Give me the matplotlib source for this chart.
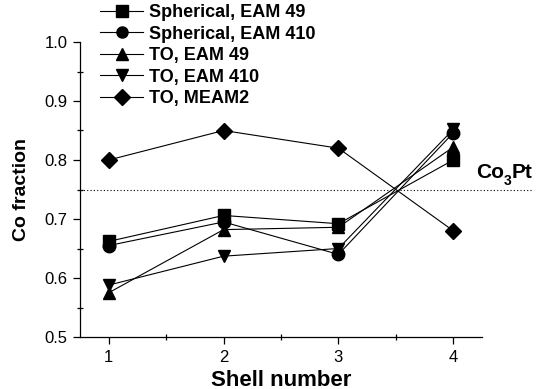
import matplotlib
matplotlib.use("Agg")
import matplotlib.pyplot as plt
from matplotlib.ticker import MultipleLocator, FormatStrFormatter

plt.rcParams['font.family'] = ['Liberation Sans', 'DejaVu Sans']

shells = [1, 2, 3, 4]
sph_eam49 = [0.662, 0.706, 0.692, 0.800]
sph_eam410 = [0.655, 0.695, 0.640, 0.846]
to_eam49 = [0.575, 0.682, 0.686, 0.822]
to_eam410 = [0.588, 0.637, 0.650, 0.852]
to_meam2 = [0.800, 0.850, 0.820, 0.680]
labels = ["Spherical, EAM 49", "Spherical, EAM 410", "TO, EAM 49", "TO, EAM 410", "TO, MEAM2"]
co3pt = 0.75

fig = plt.figure(figsize=(5.38, 3.89), dpi=100)
ax = fig.add_axes([80/538, 52/389, 402/538, 295/389])

series = [sph_eam49, sph_eam410, to_eam49, to_eam410, to_meam2]
markers = ['s', 'o', '^', 'v', 'D']
msizes = [8, 9, 9, 9, 8]
for s, m, ms, lab in zip(series, markers, msizes, labels):
    ax.plot(shells, s, color='black', lw=0.8, marker=m, markersize=ms,
            markerfacecolor='black', markeredgecolor='black', label=lab)

ax.plot([0, 1.124], [co3pt, co3pt], transform=ax.get_yaxis_transform(),
        clip_on=False, color='black', lw=0.8, ls=(0, (1, 2)))

t1 = ax.text(0.985, co3pt + 0.019, "Co", transform=ax.get_yaxis_transform(),
             fontsize=15, fontweight='bold', ha='left', va='baseline')
t2 = ax.annotate("3", xy=(1, 0), xycoords=t1, xytext=(0, 1), textcoords='offset points',
                 fontsize=10, fontweight='bold', ha='left', va='center')
t3 = ax.annotate("Pt", xy=(1, 0), xycoords=(t2, t1), xytext=(0, 0),
                 textcoords='offset points', fontsize=15, fontweight='bold',
                 ha='left', va='bottom')

ax.set_xlim(0.75, 4.25)
ax.set_ylim(0.5, 1.0)
ax.xaxis.set_major_locator(MultipleLocator(1))
ax.xaxis.set_minor_locator(MultipleLocator(0.5))
ax.yaxis.set_major_locator(MultipleLocator(0.1))
ax.yaxis.set_minor_locator(MultipleLocator(0.05))
ax.yaxis.set_major_formatter(FormatStrFormatter('%.1f'))
ax.tick_params(which='major', direction='out', length=5, width=0.9, labelsize=12, pad=4)
ax.tick_params(which='minor', direction='inout', length=4, width=0.9)
for sp in ['top', 'right']:
    ax.spines[sp].set_visible(False)
for sp in ['left', 'bottom']:
    ax.spines[sp].set_linewidth(0.9)

ax.set_xlabel("Shell number", fontsize=16, fontweight='bold', labelpad=4)
ax.set_ylabel("Co fraction", fontsize=14, fontweight='bold', labelpad=10)

leg = ax.legend(loc='upper left', bbox_to_anchor=(100/538, 1 - 4/389),
                bbox_transform=fig.transFigure, frameon=False,
                prop={'weight': 'bold', 'size': 13}, handlelength=2.4,
                handletextpad=0.3, labelspacing=0.25, borderpad=0, borderaxespad=0)
for h in leg.legend_handles:
    h.set_markersize(8)

fig.savefig("out.png", dpi=100)
